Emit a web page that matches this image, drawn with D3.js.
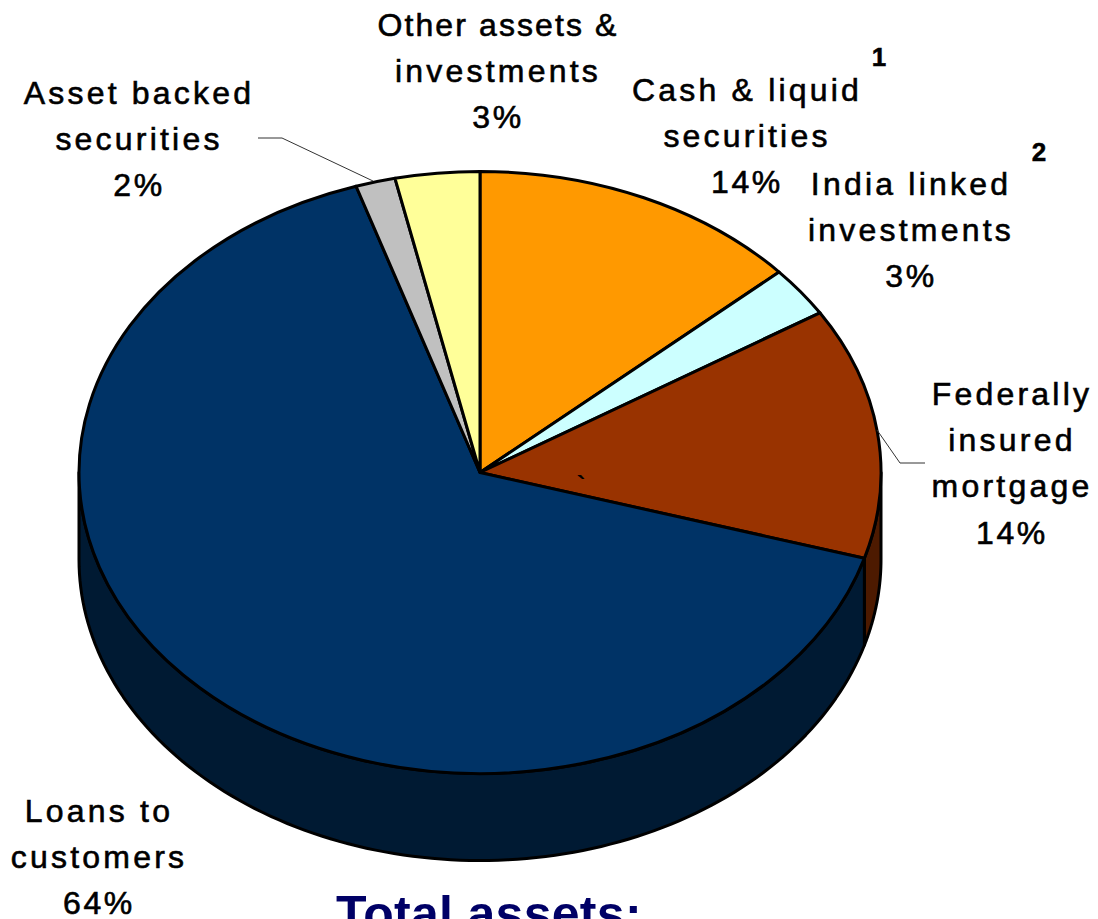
<!DOCTYPE html>
<html>
<head>
<meta charset="utf-8">
<script src="https://cdn.jsdelivr.net/npm/d3@7"></script>
<style>
html,body{margin:0;padding:0;background:#fff;overflow:hidden}
svg{display:block}
text{font-family:"Liberation Sans",Arial,sans-serif;fill:#000}
</style>
</head>
<body>
<div id="chart"></div>
<script>
// Data
const categories = ["Cash & liquid securities","India linked investments","Federally insured mortgage","Loans to customers","Asset backed securities","Other assets & investments"];
const sliceShares = [13.4,2.7,13.5,65.4,1.6,3.4];
const printedPercents = ["14%","3%","14%","64%","2%","3%"];
const labelLines = [["Cash & liquid","securities"],["India linked","investments"],["Federally","insured","mortgage"],["Loans to","customers"],["Asset backed","securities"],["Other assets &","investments"]];
const topColors = ["#FF9900","#CCFFFF","#993300","#003366","#C0C0C0","#FFFF99"];
const wallColors = ["#7F4C00","#668080","#4D1A00","#001A33","#606060","#80804C"];
const footnotes = ["1","2"];

// Layout
const W = 1098, H = 919;
const cx = 480, cy = 472.5, rx = 401, ry = 301, depth = 87;
const labelPos = [[747,101],[911,195],[1012,405],[99,822],[139,104],[498,36]];
const lineGap = 46.2;

const svg = d3.select("#chart").append("svg").attr("width",W).attr("height",H).attr("viewBox",`0 0 ${W} ${H}`);
const pie = d3.pie().sort(null).value(d=>d);
const arcs = pie(sliceShares);

const px = d3.scaleLinear().domain([-1,1]).range([cx-rx,cx+rx]);
const py = d3.scaleLinear().domain([-1,1]).range([cy-ry,cy+ry]);
const rim = a => [px(Math.sin(a)), py(-Math.cos(a))];

// Side wall: only the front half of the disc is visible
const wallG = svg.append("g");
arcs.forEach((d,i)=>{
  const a0 = Math.max(d.startAngle, Math.PI/2), a1 = Math.min(d.endAngle, 3*Math.PI/2);
  if (a1 <= a0) return;
  const angles = d3.range(0,121).map(k=>a0+(a1-a0)*k/120);
  const upper = angles.map(rim);
  const lower = upper.map(p=>[p[0],p[1]+depth]).reverse();
  wallG.append("path")
    .attr("d", d3.line()(upper.concat(lower))+"Z")
    .attr("fill", wallColors[i]).attr("stroke","#000").attr("stroke-width",3).attr("stroke-linejoin","round");
});

// Top face
const arcGen = d3.arc().innerRadius(0).outerRadius(rx);
svg.append("g").attr("transform",`translate(${cx},${cy}) scale(1,${ry/rx})`)
  .selectAll("path").data(arcs).join("path")
  .attr("d",arcGen)
  .attr("fill",(d,i)=>topColors[i])
  .attr("stroke","#000").attr("stroke-width",3).attr("stroke-linejoin","round")
  .attr("vector-effect","non-scaling-stroke");

// Leader lines
const leaders = [[[258,138],[282,138],[373,181]],[[877,430],[900,463],[925,463]]];
svg.append("g").selectAll("path").data(leaders).join("path")
  .attr("d",d3.line()).attr("fill","none").attr("stroke","#333").attr("stroke-width",1);

// Labels
const labels = svg.append("g").attr("font-size",32).attr("text-anchor","middle")
  .attr("stroke","#000").attr("stroke-width",0.6).style("letter-spacing","3.2px");
categories.forEach((c,i)=>{
  const lines = labelLines[i].concat([printedPercents[i]]);
  lines.forEach((t,j)=>{
    const isPct = j === lines.length-1;
    const tx = labels.append("text").attr("x",labelPos[i][0]).attr("y",labelPos[i][1]+j*lineGap).text(t);
    if (isPct) tx.style("letter-spacing","2.6px");
    if (t === "Other assets &") tx.style("letter-spacing","2.1px");
  });
});

// Footnote markers
svg.selectAll("text.fn").data(footnotes).join("text").attr("class","fn")
  .attr("x",(d,i)=>[879,1039][i]).attr("y",(d,i)=>[66,161][i])
  .attr("text-anchor","middle").attr("font-size",26).attr("font-weight",700)
  .attr("stroke","#000").attr("stroke-width",0.5).text(d=>d);

// Stray mark
svg.append("text").attr("x",581).attr("y",494).attr("text-anchor","middle").attr("font-size",26).attr("font-weight",700).text("`");

// Title (cropped by the frame)
svg.append("text").attr("x",336).attr("y",931).attr("font-size",50).attr("font-weight",700)
  .style("letter-spacing","0.3px").style("fill","#000066").text("Total assets:");
</script>
</body>
</html>
